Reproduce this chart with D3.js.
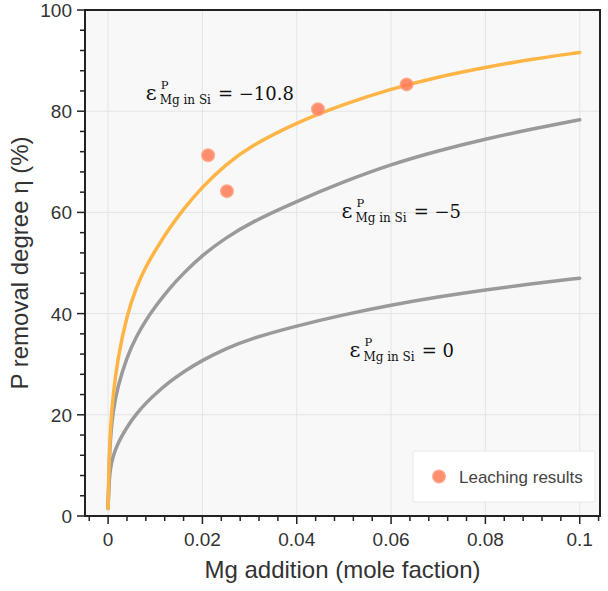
<!DOCTYPE html>
<html>
<head>
<meta charset="utf-8">
<script src="https://cdn.jsdelivr.net/npm/d3@7"></script>
<style>
  body { margin: 0; background: #fff; }
  svg { display: block; font-family: "Liberation Sans", Arial, sans-serif; }
  .grid-ln { stroke: #e4e4e4; stroke-width: 1; }
  .tick-lbl { font-size: 19px; fill: #333; }
  .ax-title { font-size: 24px; fill: #333; }
  .eq { font-family: "DejaVu Serif", serif; fill: #111; }
</style>
</head>
<body>
<svg id="chart" width="608" height="591"></svg>
<script>
// Mg addition (mole fraction) where the model curves were read
const mgX = [0, 0.0002, 0.0005, 0.001, 0.002, 0.004, 0.006, 0.008, 0.01, 0.013, 0.016,
             0.02, 0.025, 0.03, 0.04, 0.05, 0.06, 0.07, 0.08, 0.09, 0.1];
// P removal degree (%) for each interaction coefficient
const etaEpsM108 = [1.5, 11, 17.5, 23.5, 31, 39.8, 45.3, 49.3, 52.5, 56.9, 60.7,
                    65.1, 69.5, 73.0, 77.8, 81.4, 84.4, 86.8, 88.7, 90.3, 91.6];
const etaEpsM5   = [1.5, 10, 15.5, 20.5, 25.5, 31.5, 35.5, 38.7, 41.4, 45.0, 48.0,
                    51.6, 55.0, 57.9, 62.2, 66.1, 69.5, 72.2, 74.5, 76.5, 78.3];
const etaEps0    = [1.5, 7, 9.5, 11.7, 14.3, 17.6, 20.2, 22.3, 24.1, 26.5, 28.5,
                    30.8, 33.1, 35.0, 37.6, 39.8, 41.7, 43.3, 44.7, 45.9, 47.0];
// leaching experiments
const leachX   = [0.0212, 0.0252, 0.0445, 0.0633];
const leachEta = [71.3, 64.2, 80.4, 85.3];

const xTicks = [0, 0.02, 0.04, 0.06, 0.08, 0.1];
const xTickLabels = ['0', '0.02', '0.04', '0.06', '0.08', '0.1'];
const yTicks = [0, 20, 40, 60, 80, 100];

const curves = [
  { eps: '−10.8', eta: etaEpsM108, color: '#ffb446', lbl: [0.0080, 82.2] },
  { eps: '−5',    eta: etaEpsM5,   color: '#9a9a9a', lbl: [0.0495, 58.8] },
  { eps: '0',     eta: etaEps0,    color: '#9a9a9a', lbl: [0.0512, 31.5] },
];

const L = 85, T = 10, R = 600, B = 516;

const svg = d3.select('#chart');

const x = d3.scaleLinear().domain([-0.0049, 0.1043]).range([L, R]);
const y = d3.scaleLinear().domain([0, 100]).range([B, T]);

// plot background
svg.append('rect')
  .attr('x', L).attr('y', T).attr('width', R - L).attr('height', B - T)
  .attr('fill', '#f8f8f8');

// grid
const gGrid = svg.append('g');
xTicks.forEach(t => {
  gGrid.append('line').attr('class', 'grid-ln')
    .attr('x1', x(t)).attr('x2', x(t)).attr('y1', T).attr('y2', B);
});
yTicks.forEach(t => {
  gGrid.append('line').attr('class', 'grid-ln')
    .attr('x1', L).attr('x2', R).attr('y1', y(t)).attr('y2', y(t));
});

// curves (B-spline through the read points, smooths small reading errors)
const line = d3.line()
  .x((d, i) => x(mgX[i]))
  .y(d => y(d))
  .curve(d3.curveBasis);

const gCurve = svg.append('g');
curves.slice().reverse().forEach(c => {
  gCurve.append('path')
    .datum(c.eta)
    .attr('d', line)
    .attr('fill', 'none')
    .attr('stroke', c.color)
    .attr('stroke-width', 3.5)
    .attr('stroke-linecap', 'round');
});

// leaching points
svg.append('g').selectAll('circle')
  .data(leachX.map((v, i) => [v, leachEta[i]]))
  .enter().append('circle')
  .attr('cx', d => x(d[0])).attr('cy', d => y(d[1]))
  .attr('r', 6)
  .attr('fill', '#ff7b55').attr('fill-opacity', 0.85)
  .attr('stroke', '#ff9777').attr('stroke-width', 2).attr('stroke-opacity', 0.8);

// equation labels: ε with P superscript and "Mg in Si" subscript
curves.forEach(c => {
  const px = x(c.lbl[0]), py = y(c.lbl[1]);
  const g = svg.append('g').attr('class', 'eq');
  const e = g.append('text').attr('x', px).attr('y', py)
    .style('font-size', '21px').text('ε');
  const w = e.node().getComputedTextLength();
  g.append('text').attr('x', px + w + 4).attr('y', py - 11)
    .style('font-size', '11.5px').text('P');
  const sub = g.append('text').attr('x', px + w + 3).attr('y', py + 4)
    .style('font-size', '12px').text('Mg in Si');
  const sw = sub.node().getComputedTextLength();
  g.append('text').attr('x', px + w + sw + 10).attr('y', py)
    .style('font-size', '18px').text('= ' + c.eps);
});

// frame
svg.append('rect')
  .attr('x', L).attr('y', T).attr('width', R - L).attr('height', B - T)
  .attr('fill', 'none').attr('stroke', '#222').attr('stroke-width', 2);

// ticks
const gAx = svg.append('g');
d3.range(-0.004, 0.1045, 0.004).forEach(t => {
  const major = xTicks.some(m => Math.abs(m - t) < 1e-6);
  if (major) return;
  gAx.append('line').attr('x1', x(t)).attr('x2', x(t)).attr('y1', B).attr('y2', B + 5)
    .attr('stroke', '#222').attr('stroke-width', 1.5);
});
xTicks.forEach((t, i) => {
  gAx.append('line').attr('x1', x(t)).attr('x2', x(t)).attr('y1', B).attr('y2', B + 8)
    .attr('stroke', '#222').attr('stroke-width', 1.5);
  gAx.append('text').attr('class', 'tick-lbl')
    .attr('x', x(t)).attr('y', B + 30).attr('text-anchor', 'middle')
    .text(xTickLabels[i]);
});
d3.range(0, 101, 4).forEach(t => {
  const major = t % 20 === 0;
  gAx.append('line').attr('x1', L - (major ? 8 : 5)).attr('x2', L).attr('y1', y(t)).attr('y2', y(t))
    .attr('stroke', '#222').attr('stroke-width', 1.5);
  if (major) gAx.append('text').attr('class', 'tick-lbl')
    .attr('x', L - 13).attr('y', y(t) + 7).attr('text-anchor', 'end')
    .text(t);
});

// axis titles
svg.append('text').attr('class', 'ax-title')
  .attr('x', (L + R) / 2).attr('y', 578).attr('text-anchor', 'middle')
  .text('Mg addition (mole faction)');
svg.append('text').attr('class', 'ax-title')
  .attr('transform', `translate(28,${(T + B) / 2}) rotate(-90)`)
  .attr('text-anchor', 'middle')
  .text('P removal degree η (%)');

// legend
const gLeg = svg.append('g');
gLeg.append('rect').attr('x', 413).attr('y', 451).attr('width', 182).attr('height', 51)
  .attr('fill', '#fff').attr('stroke', '#e8e8e8').attr('rx', 2);
gLeg.append('circle').attr('cx', 439).attr('cy', 476.5).attr('r', 6)
  .attr('fill', '#ff7b55').attr('fill-opacity', 0.85)
  .attr('stroke', '#ff9777').attr('stroke-width', 2).attr('stroke-opacity', 0.8);
gLeg.append('text').attr('x', 459).attr('y', 482.5)
  .style('font-size', '17px').attr('fill', '#444')
  .text('Leaching results');
</script>
</body>
</html>
